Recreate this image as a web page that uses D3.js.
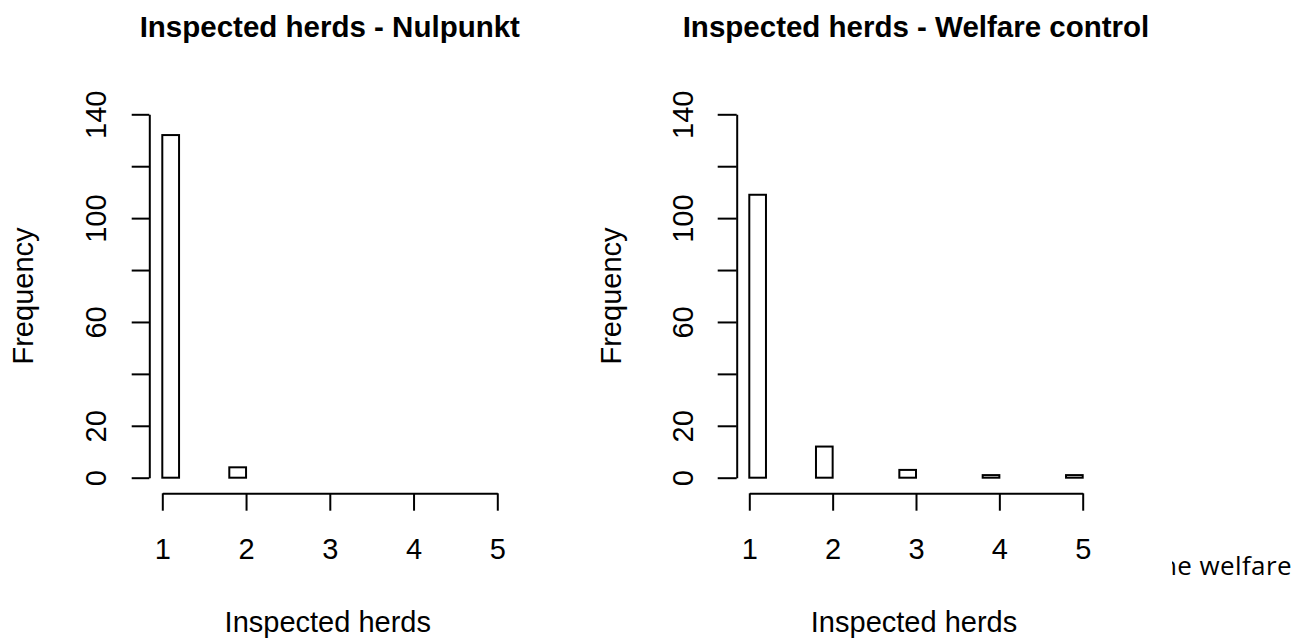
<!DOCTYPE html>
<html>
<head>
<meta charset="utf-8">
<script src="https://cdn.jsdelivr.net/npm/d3@7"></script>
<style>
  html, body { margin: 0; padding: 0; background: #fff; }
  svg { display: block; }
  text { font-family: "Liberation Sans", Arial, sans-serif; fill: #000; }
</style>
</head>
<body>
<div id="chart"></div>
<script>
// histogram bins (width 0.2), R style: (a, b]
var binStarts = [1.0, 1.2, 1.4, 1.6, 1.8, 2.0, 2.2, 2.4, 2.6, 2.8,
                 3.0, 3.2, 3.4, 3.6, 3.8, 4.0, 4.2, 4.4, 4.6, 4.8];
var binWidth = 0.2;
var nulpunktCounts = [132, 0, 0, 0, 4];
var welfareCounts = [109, 0, 0, 0, 12, 0, 0, 0, 0, 3,
                     0, 0, 0, 0, 1, 0, 0, 0, 0, 1];
var xTicks = [1, 2, 3, 4, 5];
var yTicks = [0, 20, 40, 60, 80, 100, 120, 140];
var yTickLabels = [0, 20, 60, 100, 140];
var titles = ["Inspected herds - Nulpunkt", "Inspected herds - Welfare control"];

var width = 1295,
  height = 639;

var svg = d3
  .select("#chart")
  .append("svg")
  .attr("width", width)
  .attr("height", height);

svg.append("rect").attr("width", width).attr("height", height).attr("fill", "#fff");

// text cut off from the document behind the picture
svg
  .append("clipPath")
  .attr("id", "docClip")
  .append("rect")
  .attr("x", 1172)
  .attr("y", 530)
  .attr("width", 130)
  .attr("height", 80);
svg
  .append("text")
  .attr("clip-path", "url(#docClip)")
  .attr("x", 1292)
  .attr("y", 575)
  .attr("text-anchor", "end")
  .style("font-family", "'Open Sans', 'Noto Sans', sans-serif")
  .style("letter-spacing", "0.4px")
  .attr("font-size", "26px")
  .text("the welfare");

var panels = [
  { title: titles[0], counts: nulpunktCounts, x0: 162.3, x1: 497.3, axisX: 149.3, tick: 17.6 },
  { title: titles[1], counts: welfareCounts, x0: 749.3, x1: 1082.7, axisX: 736.7, tick: 19 }
];

var yScale = d3.scaleLinear().domain([0, 140]).range([477.7, 114.3]);
var xAxisY = 493.3;

panels.forEach(drawPanel);

function drawPanel(p) {
  var xScale = d3.scaleLinear().domain([1, 5]).range([p.x0, p.x1]);
  var g = svg.append("g");

  var bins = p.counts.map(function(c, i) {
    return { start: binStarts[i], count: c };
  });

  g.selectAll("rect.bar")
    .data(bins)
    .enter()
    .append("rect")
    .attr("class", "bar")
    .attr("x", function(d) { return xScale(d.start); })
    .attr("width", function(d) { return xScale(d.start + binWidth) - xScale(d.start); })
    .attr("y", function(d) { return yScale(d.count); })
    .attr("height", function(d) { return yScale(0) - yScale(d.count); })
    .attr("fill", "none")
    .attr("stroke", "#000")
    .attr("stroke-width", 2);

  // x axis
  var xAxis = g
    .append("g")
    .attr("transform", "translate(0," + xAxisY + ")")
    .call(
      d3.axisBottom(xScale)
        .tickValues(xTicks)
        .tickSize(17.4)
        .tickSizeOuter(0)
        .tickFormat(d3.format("d"))
    );
  xAxis.select(".domain").attr("stroke-width", 2);
  xAxis.selectAll(".tick line").attr("stroke-width", 2);
  xAxis
    .selectAll(".tick text")
    .attr("dy", null)
    .attr("y", 65.7)
    .attr("font-size", "29px")
    .attr("font-family", null);

  // y axis
  var yAxis = g
    .append("g")
    .attr("transform", "translate(" + p.axisX + ",0)")
    .call(
      d3.axisLeft(yScale)
        .tickValues(yTicks)
        .tickSize(p.tick)
        .tickSizeOuter(0)
        .tickFormat(function(d) {
          return yTickLabels.indexOf(d) >= 0 ? d : "";
        })
    );
  yAxis.select(".domain").attr("stroke-width", 2);
  yAxis.selectAll(".tick line").attr("stroke-width", 2);
  yAxis
    .selectAll(".tick text")
    .attr("x", null)
    .attr("dy", null)
    .attr("text-anchor", "middle")
    .attr("transform", "translate(-43.3,0) rotate(-90)")
    .attr("font-size", "29px")
    .attr("font-family", null);

  var midX = (p.x0 + p.x1) / 2;

  g.append("text")
    .attr("x", midX)
    .attr("y", 37)
    .attr("text-anchor", "middle")
    .attr("font-size", "29.5px")
    .attr("font-weight", "bold")
    .text(p.title);

  g.append("text")
    .attr("x", midX - 2)
    .attr("y", 632)
    .attr("text-anchor", "middle")
    .attr("font-size", "29px")
    .text("Inspected herds");

  g.append("text")
    .attr("transform", "translate(" + (p.axisX - 116.2) + "," + (yScale(70)) + ") rotate(-90)")
    .attr("text-anchor", "middle")
    .attr("font-size", "29px")
    .text("Frequency");
}
</script>
</body>
</html>
